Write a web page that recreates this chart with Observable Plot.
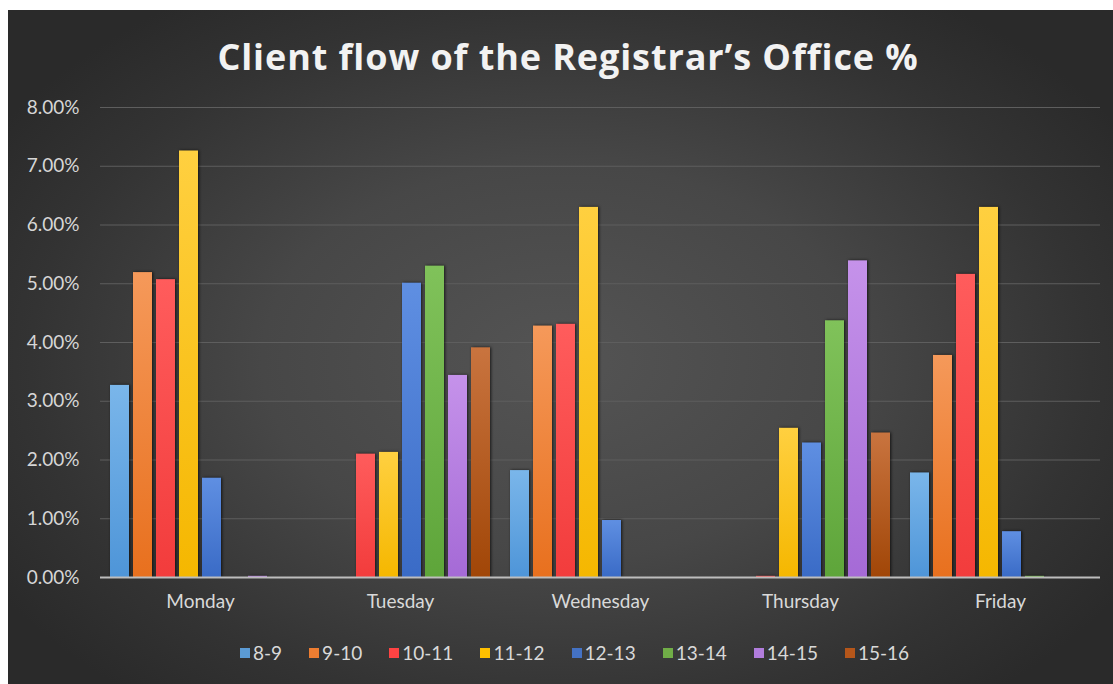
<!DOCTYPE html>
<html>
<head>
<meta charset="utf-8">
<script src="https://cdn.jsdelivr.net/npm/d3@7"></script>
<script src="https://cdn.jsdelivr.net/npm/@observablehq/plot@0.6"></script>
<style>
  html, body { margin: 0; padding: 0; background: #fff; }
  body { width: 1113px; height: 684px; position: relative; overflow: hidden; }
  #bg { position: absolute; left: 8px; top: 10px; width: 1105px; height: 674px;
        background: radial-gradient(ellipse 60% 65% at 50% 52%, #545454 0%, #474747 45%, #333 80%, #2a2a2a 100%); }
  #title { position: absolute; left: 0; width: 1136px; top: 32px; text-align: center;
           font-family: "Open Sans", sans-serif; font-weight: 700; font-size: 36px; line-height: 49px; color: #f2f2f2; letter-spacing: 0.9px; }
  #plot { position: absolute; left: 0; top: 80px; }
  #legend { position: absolute; top: 641px; left: 240px; display: flex; gap: 27px;
            font-family: Lato, sans-serif; font-size: 19px; color: #d9d9d9; align-items: center; }
  #legend .it { display: flex; align-items: center; gap: 3px; }
  #legend .sw { width: 10px; height: 10px; display: inline-block; }
</style>
</head>
<body>
<div id="bg"></div>
<div id="title">Client flow of the Registrar’s Office %</div>
<div id="plot"></div>
<div id="legend"></div>
<script>
const days = ["Monday", "Tuesday", "Wednesday", "Thursday", "Friday"];
const series = ["8-9", "9-10", "10-11", "11-12", "12-13", "13-14", "14-15", "15-16"];
// values in % per series, in the order of days
const v8_9   = [3.27, 0,    1.82, 0,    1.78];
const v9_10  = [5.19, 0,    4.28, 0,    3.78];
const v10_11 = [5.07, 2.10, 4.31, 0.02, 5.16];
const v11_12 = [7.26, 2.13, 6.30, 2.54, 6.30];
const v12_13 = [1.69, 5.01, 0.97, 2.29, 0.78];
const v13_14 = [0,    5.30, 0,    4.37, 0.02];
const v14_15 = [0.02, 3.44, 0,    5.39, 0];
const v15_16 = [0,    3.91, 0,    2.46, 0];
const yTicks = [0, 1, 2, 3, 4, 5, 6, 7, 8];

const colorsTop    = ["#7ab6ea", "#f5995a", "#ff5c5c", "#ffd040", "#5f8fe2", "#80c25a", "#c592ea", "#c9743f"];
const colorsBottom = ["#4e95d8", "#e8701e", "#f23c3c", "#f5b700", "#3a6bc6", "#5ea53a", "#a56ad6", "#a14607"];
const colorsSwatch = ["#5b9bd5", "#ed7d31", "#ff4343", "#ffc000", "#4472c4", "#70ad47", "#b17ddd", "#b5561a"];

const valueArrays = [v8_9, v9_10, v10_11, v11_12, v12_13, v13_14, v14_15, v15_16];
const data = [];
days.forEach((d, di) => series.forEach((s, si) => data.push({day: d, slot: s, value: valueArrays[si][di] / 100})));

const fxPadInner = 0.09, fxPadOuter = 0.045;
const step = 1000 / (days.length - fxPadInner + 2 * fxPadOuter);
const half = step * fxPadInner / 2; // extend rules across the gaps between facets

const chart = Plot.plot({
  width: 1113,
  height: 540,
  marginLeft: 100,
  marginRight: 13,
  marginTop: 27,
  marginBottom: 43,
  style: {background: "transparent", fontFamily: "Lato, sans-serif", overflow: "visible"},
  fx: {domain: days, paddingInner: fxPadInner, paddingOuter: fxPadOuter, label: null},
  x: {domain: series, paddingInner: 0.185, paddingOuter: 0, axis: null},
  y: {domain: [0, 0.08], label: null},
  color: {domain: series, range: series.map((s, i) => `url(#grad${i})`)},
  marks: [
    Plot.ruleY(yTicks.map(t => t / 100).filter(t => t > 0), {stroke: "#5e5e5e", strokeWidth: 1, insetLeft: -half, insetRight: -half}),
    Plot.barY(data, {fx: "day", x: "slot", y: "value", fill: "slot"}),
    Plot.ruleY([0], {stroke: "#bdbdbd", strokeWidth: 2, insetLeft: -half, insetRight: -half}),
    Plot.axisY(yTicks.map(t => t / 100), {tickSize: 0, tickPadding: 30, tickFormat: d3.format(".2%"), fill: "#d6d6d6", fontSize: 19, label: null}),
    Plot.axisFx({anchor: "bottom", tickSize: 0, tickPadding: 17, fill: "#d9d9d9", fontSize: 19, label: null})
  ]
});

// gradients for the bar fills
const defs = d3.select(chart).insert("defs", ":first-child");
series.forEach((s, i) => {
  const g = defs.append("linearGradient").attr("id", `grad${i}`).attr("x1", 0).attr("y1", 0).attr("x2", 0).attr("y2", 1);
  g.append("stop").attr("offset", "0%").attr("stop-color", colorsTop[i]);
  g.append("stop").attr("offset", "100%").attr("stop-color", colorsBottom[i]);
});
d3.select(chart).selectAll("g[aria-label='bar']").style("filter", "drop-shadow(1px 0px 1.5px rgba(0,0,0,0.7))");

document.getElementById("plot").appendChild(chart);

const legend = d3.select("#legend");
series.forEach((s, i) => {
  const it = legend.append("div").attr("class", "it");
  it.append("span").attr("class", "sw").style("background", colorsSwatch[i]);
  it.append("span").text(s);
});
</script>
</body>
</html>
